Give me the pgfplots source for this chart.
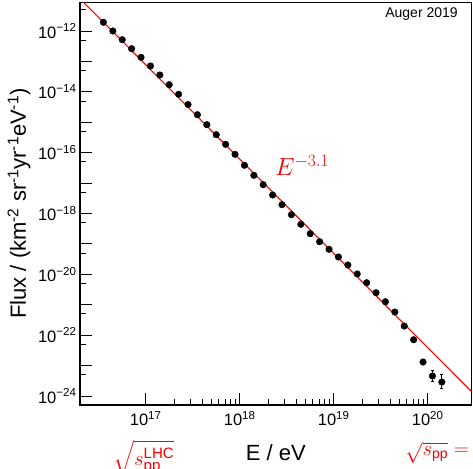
\documentclass[border=0pt]{standalone}
\usepackage{amsmath}
\usepackage[no-math]{fontspec}
\setmainfont{Liberation Sans}
\usepackage{pgfplots}
\pgfplotsset{compat=1.18}

\begin{document}
\begin{tikzpicture}
\begin{axis}[
    scale only axis, width=391.6pt, height=402.7pt,
    xmode=log, ymode=log,
    xmin=2e16, xmax=2.93e20, ymin=5.06e-25, ymax=8.77e-12,
    axis line style={line width=1.1pt},
    tick pos=left,
    every tick/.style={black, line width=0.9pt},
    major tick length=12pt, minor tick length=6pt,
    xtick={1e17,1e18,1e19,1e20},
    xticklabels={10\textsuperscript{17},10\textsuperscript{18},10\textsuperscript{19},10\textsuperscript{20}},
    ytick={1e-24,1e-23,1e-22,1e-21,1e-20,1e-19,1e-18,1e-17,1e-16,1e-15,1e-14,1e-13,1e-12},
    yticklabels={{10\textsuperscript{−24}},{},{10\textsuperscript{−22}},{},{10\textsuperscript{−20}},{},{10\textsuperscript{−18}},{},{10\textsuperscript{−16}},{},{10\textsuperscript{−14}},{},{10\textsuperscript{−12}}},
    minor ytick={5e-25,5e-24,5e-23,5e-22,5e-21,5e-20,5e-19,5e-18,5e-17,5e-16,5e-15,5e-14,5e-13,5e-12},
    ticklabel style={font=\fontsize{16.5}{16.5}\selectfont},
    xticklabel style={yshift=-3pt},
    xlabel={E / eV},
    xlabel style={font=\fontsize{22}{22}\selectfont, at={(axis description cs:0.5,-0.1366)}, anchor=base},
    ylabel={Flux / (km\textsuperscript{-2} sr\textsuperscript{-1}yr\textsuperscript{-1}eV\textsuperscript{-1})},
    ylabel style={font=\fontsize{22}{22}\selectfont, at={(axis description cs:-0.156,0.5)}, anchor=center},
    clip mode=individual,
]
% E^-3.1 reference line
\addplot[red, line width=1.1pt] coordinates {(2e16,1.14e-11) (2.93e20,1.39e-24)};
% Auger 2019 spectrum
\addplot[only marks, mark=*, mark size=3.3pt, black] coordinates {
(3.548e16,1.93e-12) (4.467e16,1.00e-12) (5.623e16,5.18e-13) (7.079e16,2.62e-13)
(8.913e16,1.36e-13) (1.122e17,7.06e-14) (1.413e17,3.57e-14) (1.778e17,1.72e-14)
(2.239e17,8.30e-15) (2.818e17,3.84e-15) (3.548e17,1.77e-15) (4.467e17,8.30e-16)
(5.623e17,3.90e-16) (7.079e17,1.88e-16) (8.913e17,8.83e-17) (1.122e18,3.85e-17)
(1.413e18,1.80e-17) (1.778e18,8.85e-18) (2.239e18,4.06e-18) (2.818e18,1.95e-18)
(3.548e18,9.14e-19) (4.467e18,4.42e-19) (5.623e18,2.17e-19) (7.079e18,1.18e-19)
(8.913e18,6.65e-20) (1.122e19,3.72e-20) (1.413e19,2.03e-20) (1.778e19,1.03e-20)
(2.239e19,5.31e-21) (2.818e19,2.49e-21) (3.548e19,1.26e-21) (4.467e19,5.77e-22)
(5.623e19,2.00e-22) (7.079e19,7.08e-23)
};
\addplot[only marks, mark=*, mark size=3.3pt, black,
    error bars/.cd, y dir=both, y explicit,
    error bar style={line width=0.9pt}, error mark options={rotate=90, mark size=1.5pt, line width=0.9pt}]
    coordinates {
(8.913e19,1.31e-23) += (0,0.30e-23) -= (0,0.24e-23)
(1.122e20,4.55e-24) += (0,2.2e-24) -= (0,1.53e-24)
(1.413e20,2.88e-24) += (0,2.13e-24) -= (0,1.1e-24)
};
\node[red, font=\fontsize{23}{23}\selectfont] at (axis cs:4.6e18,3.9e-17) {$E^{-3.1}$};
\node[anchor=east, inner sep=0pt, font=\fontsize{14}{14}\selectfont] at (axis description cs:0.965,0.971) {Auger 2019};
\node[red, anchor=north, inner sep=0pt, font=\fontsize{21.5}{21.5}\selectfont] at (axis description cs:0.163,-0.0869) {$\sqrt{s_{\text{pp}}^{\text{LHC}}}$};
\node[red, anchor=north west, inner sep=0pt, font=\fontsize{20}{20}\selectfont] at (axis description cs:0.83,-0.0911) {$\sqrt{s_{\text{pp}}} =$};
\end{axis}
\pgfresetboundingbox
\path[use as bounding box] (-80pt,-63pt) rectangle (393pt,405pt);
\end{tikzpicture}
\end{document}
